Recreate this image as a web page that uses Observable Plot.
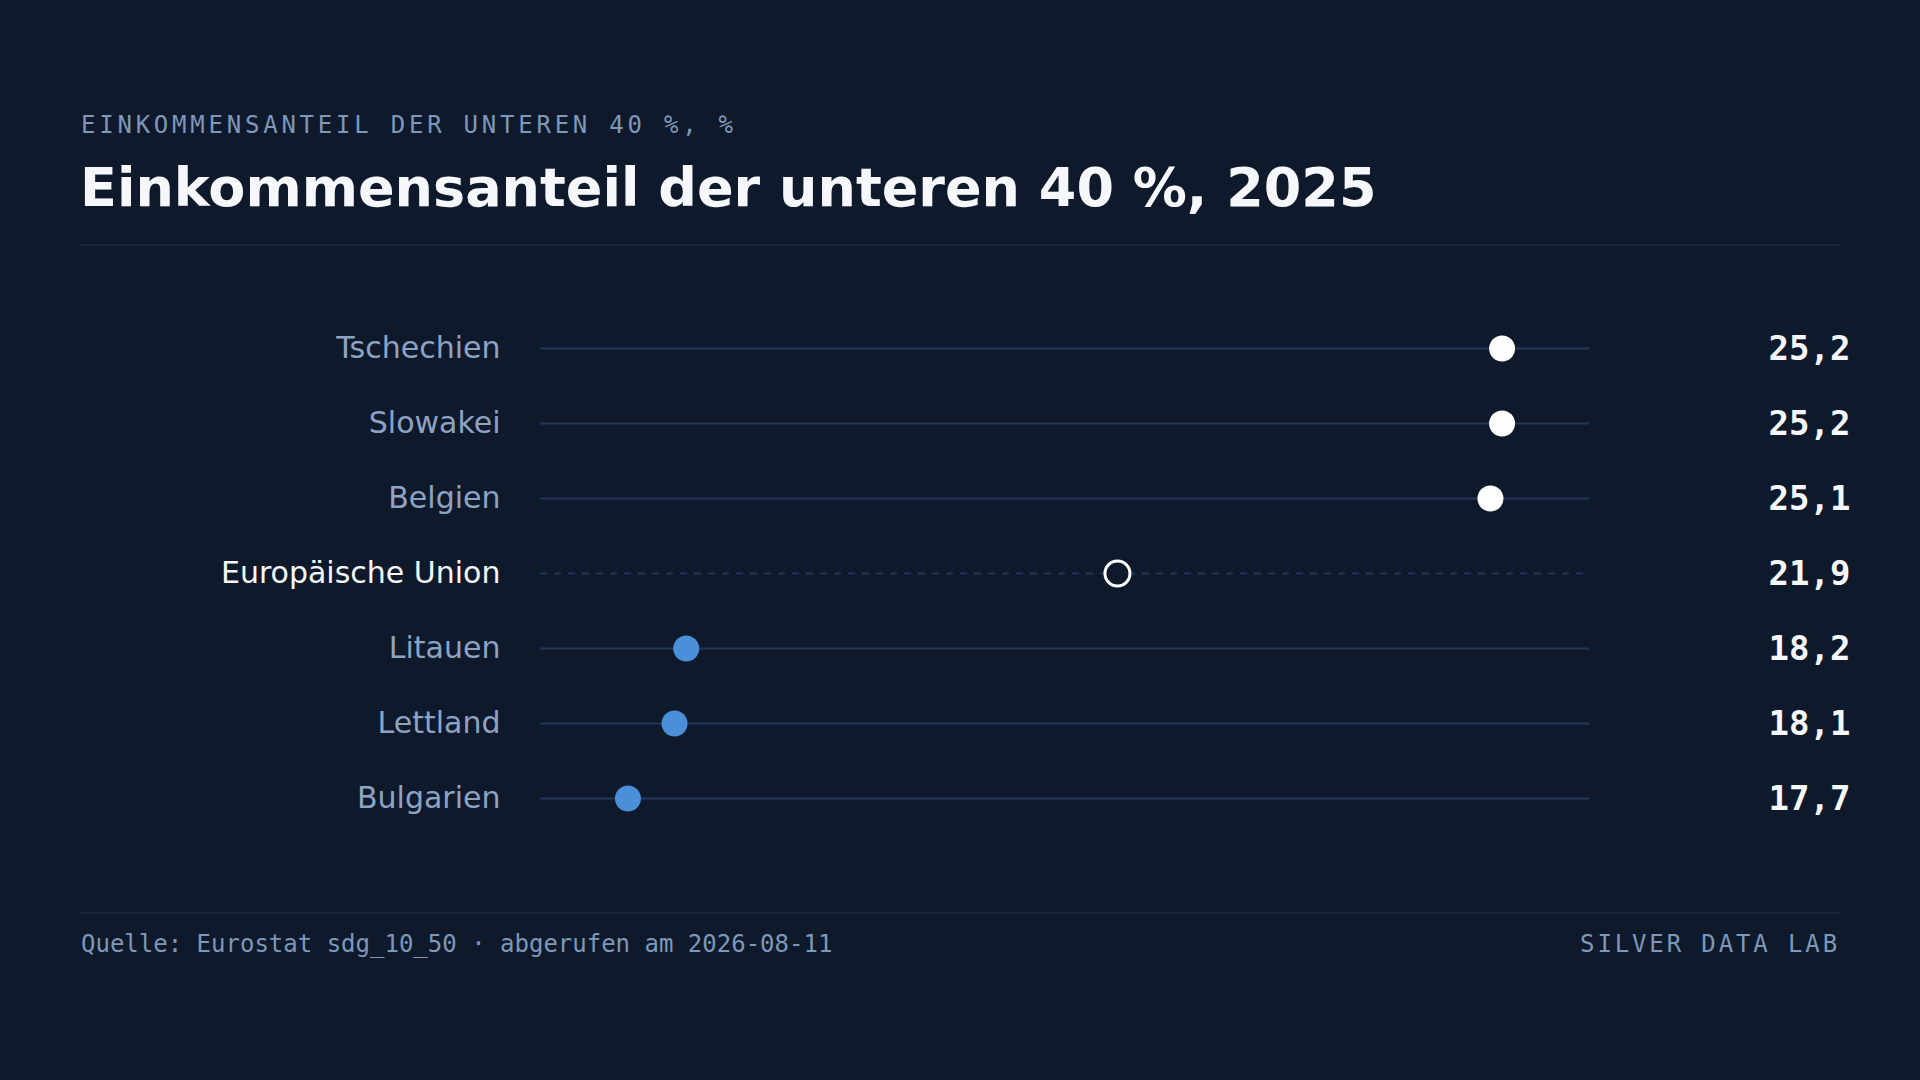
<!DOCTYPE html>
<html lang="de">
<head>
<meta charset="utf-8">
<script src="https://cdn.jsdelivr.net/npm/d3@7"></script>
<script src="https://cdn.jsdelivr.net/npm/@observablehq/plot@0.6"></script>
<style>
  html, body { margin: 0; padding: 0; background: #0e1a2b; }
  body { width: 1920px; height: 1080px; overflow: hidden; position: relative; font-family: "DejaVu Sans", sans-serif; }
  .kicker { position: absolute; left: 81px; top: 113px; font-family: "DejaVu Sans Mono", monospace; font-size: 24px; letter-spacing: 0.157em; color: #7f97b8; line-height: 1; }
  .title { position: absolute; left: 80px; top: 161px; font-family: "DejaVu Sans", sans-serif; font-weight: bold; font-size: 54px; color: #f5f7fa; line-height: 1; margin: 0; }
  .rule { position: absolute; left: 80px; width: 1760px; height: 2px; background: #162538; }
  #chart { position: absolute; left: 80px; top: 260px; }
  .foot { position: absolute; top: 932px; font-family: "DejaVu Sans Mono", monospace; font-size: 24px; color: #7f97b8; line-height: 1; }
</style>
</head>
<body>
<div class="kicker">EINKOMMENSANTEIL DER UNTEREN 40 %, %</div>
<h1 class="title">Einkommensanteil der unteren 40 %, 2025</h1>
<div class="rule" style="top:244px"></div>
<div id="chart"></div>
<div class="rule" style="top:912px"></div>
<div class="foot" style="left:81px">Quelle: Eurostat sdg_10_50 · abgerufen am 2026-08-11</div>
<div class="foot" style="right:80px; letter-spacing:0.12em">SILVER DATA LAB</div>
<script>
const countries = ["Tschechien", "Slowakei", "Belgien", "Europäische Union", "Litauen", "Lettland", "Bulgarien"];
const values = [25.2, 25.2, 25.1, 21.9, 18.2, 18.1, 17.7];
const reference = "Europäische Union";
const xDomain = [16.95, 25.95];

const data = countries.map((c, i) => ({
  country: c,
  value: values[i],
  isRef: c === reference,
  group: c === reference ? "ref" : (values[i] > values[countries.indexOf(reference)] ? "above" : "below")
}));
const fmt = v => v.toFixed(1).replace(".", ",");
const bg = "#0e1a2b";

const plot = Plot.plot({
  width: 1800,
  height: 640,
  marginLeft: 460,
  marginRight: 291,
  marginTop: 87,
  marginBottom: 102,
  style: { background: "transparent", overflow: "visible" },
  x: { domain: xDomain, axis: null },
  y: { type: "point", domain: countries, padding: 0, axis: null },
  marks: [
    Plot.ruleY(data.filter(d => !d.isRef), { y: "country", stroke: "#22365a", strokeWidth: 2 }),
    Plot.ruleY(data.filter(d => d.isRef), { y: "country", stroke: "#22365a", strokeWidth: 2, strokeDasharray: "7 7" }),
    Plot.dot(data.filter(d => !d.isRef), {
      x: "value", y: "country", r: 13, stroke: null,
      fill: d => d.group === "above" ? "#ffffff" : "#4a8fd8"
    }),
    Plot.dot(data.filter(d => d.isRef), {
      x: "value", y: "country", r: 12.5, fill: bg, stroke: "#ffffff", strokeWidth: 3
    }),
    Plot.text(data, {
      y: "country", text: "country", frameAnchor: "left", textAnchor: "end", dx: -40,
      fill: d => d.isRef ? "#f5f7fa" : "#8ea3c2",
      fontSize: 30, fontFamily: "DejaVu Sans, sans-serif"
    }),
    Plot.text(data, {
      y: "country", text: d => fmt(d.value), frameAnchor: "right", textAnchor: "start", dx: 179, dy: 1,
      fill: "#f5f7fa", fontSize: 34, fontWeight: "bold", fontFamily: "DejaVu Sans Mono, monospace"
    })
  ]
});
document.getElementById("chart").appendChild(plot);
</script>
</body>
</html>
